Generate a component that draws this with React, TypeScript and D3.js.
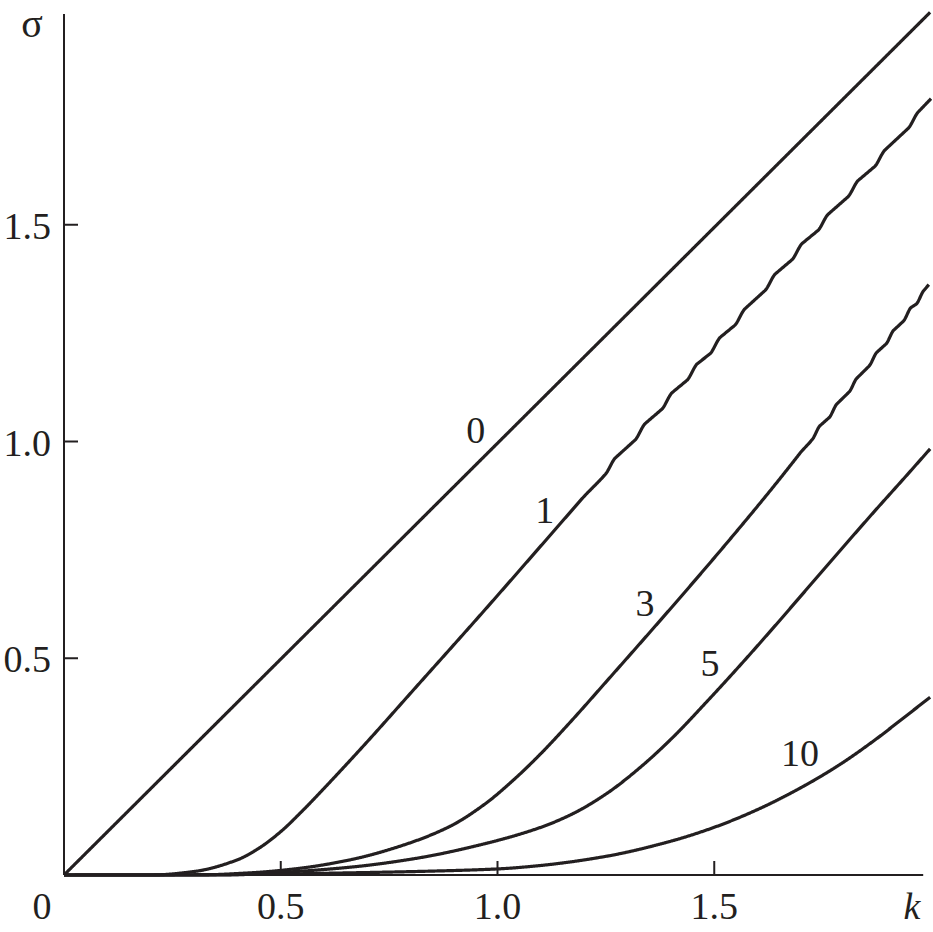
import React from "react";
import * as d3 from "d3";

// ---- Data ----
const curve0K = [0, 1.998];
const curve0S = [0, 1.99];

const curve1K = [0, 0.2, 0.3, 0.4, 0.45, 0.5, 0.55, 0.6, 0.7, 0.8, 0.965, 1.14, 1.313, 1.487, 1.661, 1.835, 2.0];
const curve1S = [0, 0.0, 0.008, 0.035, 0.062, 0.1, 0.148, 0.2, 0.308, 0.42, 0.605, 0.805, 1.004, 1.204, 1.404, 1.6, 1.788];
const curve1Kinks = [1.26, 1.329, 1.391, 1.449, 1.502, 1.559, 1.629, 1.691, 1.751, 1.82, 1.882, 1.959];

const curve3K = [0, 0.3, 0.43, 0.54, 0.66, 0.78, 0.89, 0.97, 1.04, 1.1, 1.17, 1.25, 1.41, 1.53, 1.64, 1.75, 1.87, 1.995];
const curve3S = [0, 0.0, 0.005, 0.015, 0.035, 0.068, 0.112, 0.163, 0.222, 0.28, 0.355, 0.445, 0.627, 0.767, 0.9, 1.04, 1.195, 1.359];
const curve3Kinks = [1.735, 1.774, 1.82, 1.866, 1.905, 1.945, 1.975];

const curve5K = [0, 0.35, 0.5, 0.66, 0.81, 0.97, 1.1, 1.175, 1.252, 1.329, 1.405, 1.483, 1.559, 1.636, 1.713, 1.79, 1.867, 1.944, 1.998];
const curve5S = [0, 0.0, 0.006, 0.018, 0.038, 0.072, 0.11, 0.142, 0.188, 0.248, 0.318, 0.4, 0.483, 0.57, 0.659, 0.748, 0.836, 0.922, 0.983];

const curve10K = [0, 0.4, 0.66, 0.85, 1.0, 1.1, 1.25, 1.4, 1.5, 1.6, 1.71, 1.79, 1.87, 1.94, 1.998];
const curve10S = [0, 0.001, 0.005, 0.009, 0.014, 0.022, 0.043, 0.078, 0.11, 0.151, 0.207, 0.255, 0.311, 0.365, 0.41];

const curveLabels = ["0", "1", "3", "5", "10"];
const labelK = [0.95, 1.109, 1.34, 1.49, 1.698];
const labelS = [1.027, 0.842, 0.627, 0.489, 0.281];

const xTicks = [0.5, 1.0, 1.5];
const yTicks = [0.5, 1.0, 1.5];
const xTickLabels = ["0.5", "1.0", "1.5"];
const yTickLabels = ["0.5", "1.0", "1.5"];
const xAxisMax = 1.982;
const yAxisMax = 1.986;

// ---- Helpers ----
function monotone(xs: number[], ys: number[]) {
  const n = xs.length;
  const d: number[] = [];
  for (let i = 0; i < n - 1; i++) d.push((ys[i + 1] - ys[i]) / (xs[i + 1] - xs[i]));
  const m: number[] = new Array(n);
  m[0] = d[0];
  m[n - 1] = d[n - 2];
  for (let i = 1; i < n - 1; i++) {
    if (d[i - 1] * d[i] <= 0) m[i] = 0;
    else {
      const w1 = 2 * (xs[i + 1] - xs[i]) + (xs[i] - xs[i - 1]);
      const w2 = (xs[i + 1] - xs[i]) + 2 * (xs[i] - xs[i - 1]);
      m[i] = (w1 + w2) / (w1 / d[i - 1] + w2 / d[i]);
    }
  }
  return (xv: number) => {
    let i = 0;
    while (i < n - 2 && xv > xs[i + 1]) i++;
    const h = xs[i + 1] - xs[i];
    const t = Math.min(1, Math.max(0, (xv - xs[i]) / h));
    const t2 = t * t, t3 = t2 * t;
    return (
      (2 * t3 - 3 * t2 + 1) * ys[i] +
      (t3 - 2 * t2 + t) * h * m[i] +
      (-2 * t3 + 3 * t2) * ys[i + 1] +
      (t3 - t2) * h * m[i + 1]
    );
  };
}

function wiggleOffset(k: number, kinks: number[], A: number, w: number) {
  if (!kinks.length) return 0;
  const smooth = (t: number) => t * t * (3 - 2 * t);
  const first = kinks[0];
  const gap0 = kinks.length > 1 ? kinks[1] - kinks[0] : 0.05;
  if (k < first - w) {
    const start = first - gap0;
    if (k <= start) return 0;
    return (-A / 2) * smooth((k - start) / (first - w - start));
  }
  for (let i = 0; i < kinks.length; i++) {
    const ki = kinks[i];
    if (k >= ki - w && k <= ki + w) {
      return -A / 2 + A * smooth((k - (ki - w)) / (2 * w));
    }
    const next = i + 1 < kinks.length ? kinks[i + 1] : ki + gap0;
    if (k > ki + w && k < next - w) {
      if (i + 1 < kinks.length) {
        return A / 2 - A * ((k - (ki + w)) / (next - w - (ki + w)));
      }
      return (A / 2) * (1 - (k - (ki + w)) / (next - (ki + w)));
    }
  }
  return 0;
}

const W = 933, H = 932;
const x = d3.scaleLinear().domain([0, 2]).range([64, 931]);
const y = d3.scaleLinear().domain([0, 2]).range([875, 8]);
const INK = "#231f20";
const FONT = "Liberation Serif, Times New Roman, Times, serif";

function buildPath(ks: number[], ss: number[], kinks: number[], A: number, w: number) {
  const f = monotone(ks, ss);
  const kmax = ks[ks.length - 1];
  const pts: [number, number][] = [];
  const step = 0.0015;
  for (let k = 0; k <= kmax + 1e-9; k += step) {
    pts.push([x(k), y(f(k)) - wiggleOffset(k, kinks, A, w)]);
  }
  pts.push([x(kmax), y(f(kmax)) - wiggleOffset(kmax, kinks, A, w)]);
  return d3.line()(pts) || "";
}

export default function App() {
  const curves = [
    buildPath(curve0K, curve0S, [], 0, 0),
    buildPath(curve1K, curve1S, curve1Kinks, 5, 0.011),
    buildPath(curve3K, curve3S, curve3Kinks, 4, 0.008),
    buildPath(curve5K, curve5S, [], 0, 0),
    buildPath(curve10K, curve10S, [], 0, 0),
  ];
  return (
    <svg width={W} height={H} style={{ position: "absolute", left: 0, top: 0, background: "#fff" }}>
      <rect x={0} y={0} width={W} height={H} fill="#fff" />
      {/* axes */}
      <line x1={x(0)} y1={y(0)} x2={x(0)} y2={y(yAxisMax)} stroke={INK} strokeWidth={2} />
      <line x1={x(0)} y1={y(0)} x2={x(xAxisMax)} y2={y(0)} stroke={INK} strokeWidth={2} />
      {xTicks.map((t, i) => (
        <g key={"xt" + i}>
          <line x1={x(t)} x2={x(t)} y1={y(0)} y2={y(0) - 14} stroke={INK} strokeWidth={2} />
          <text x={x(t)} y={919} textAnchor="middle" fontFamily={FONT} fontSize={38} fill={INK}>
            {xTickLabels[i]}
          </text>
        </g>
      ))}
      {yTicks.map((t, i) => (
        <g key={"yt" + i}>
          <line x1={x(0)} x2={x(0) + 14} y1={y(t)} y2={y(t)} stroke={INK} strokeWidth={2} />
          <text x={51} y={y(t) + 14} textAnchor="end" fontFamily={FONT} fontSize={38} fill={INK}>
            {yTickLabels[i]}
          </text>
        </g>
      ))}
      <text x={42} y={919} textAnchor="middle" fontFamily={FONT} fontSize={38} fill={INK}>0</text>
      <text x={912} y={919} textAnchor="middle" fontFamily={FONT} fontSize={38} fontStyle="italic" fill={INK}>k</text>
      <text x={32} y={37} textAnchor="middle" fontFamily={FONT} fontSize={40} fill={INK}>σ</text>
      {/* curves */}
      {curves.map((p, i) => (
        <path key={"c" + i} d={p} fill="none" stroke={INK} strokeWidth={3.2} strokeLinejoin="round" />
      ))}
      {curveLabels.map((l, i) => (
        <text key={"l" + i} x={x(labelK[i])} y={y(labelS[i])} dy="0.35em" textAnchor="middle" fontFamily={FONT} fontSize={38} fill={INK}>
          {l}
        </text>
      ))}
    </svg>
  );
}
